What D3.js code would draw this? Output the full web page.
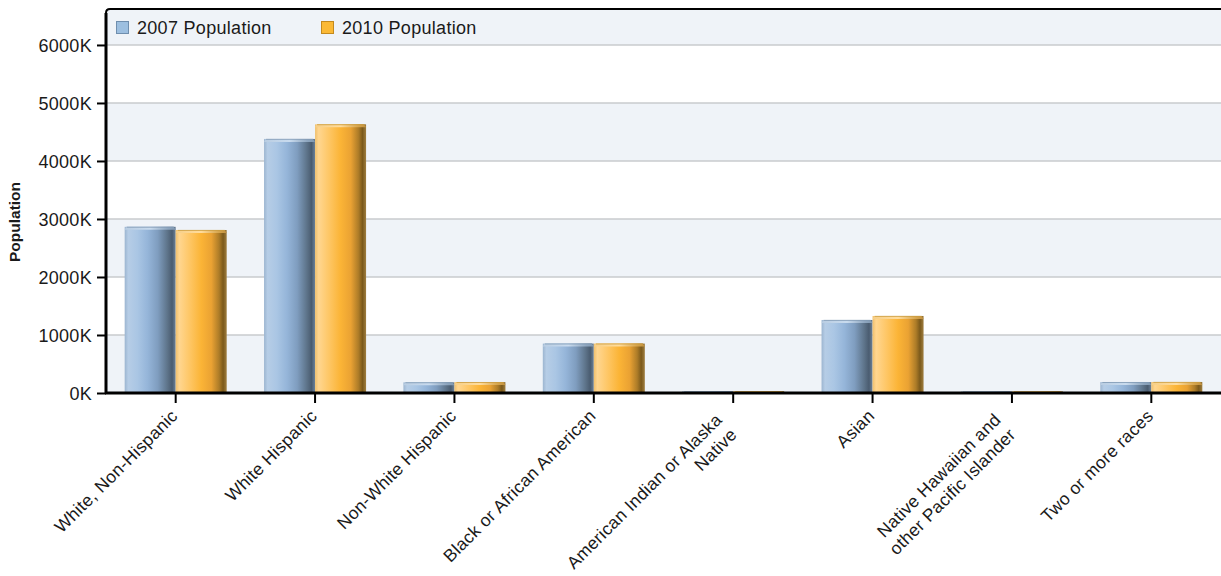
<!DOCTYPE html>
<html>
<head>
<meta charset="utf-8">
<script src="https://cdn.jsdelivr.net/npm/d3@7"></script>
<style>
  html, body { margin: 0; padding: 0; background: #ffffff; }
  svg { display: block; }
  text { font-family: "Liberation Sans", Arial, sans-serif; fill: #1a1a1a; }
</style>
</head>
<body>
<svg id="chart" width="1221" height="576"></svg>
<script>
const categories = [
  "White, Non-Hispanic",
  "White Hispanic",
  "Non-White Hispanic",
  "Black or African American",
  "American Indian or Alaska\nNative",
  "Asian",
  "Native Hawaiian and\nother Pacific Islander",
  "Two or more races"
];
const seriesNames = ["2007 Population", "2010 Population"];
const pop2007 = [2865, 4380, 184, 852, 30, 1259, 26, 188];
const pop2010 = [2810, 4632, 188, 852, 32, 1328, 28, 190];
const yTicks = [0, 1000, 2000, 3000, 4000, 5000, 6000];
const yMax = 6620;

const W = 1221, H = 576;
const m = { left: 106, right: 0, top: 9, bottom: 183 };
const x0 = m.left, x1 = W - m.right, yTop = m.top, yBot = H - m.bottom;

const svg = d3.select("#chart");
const defs = svg.append("defs");

function hGrad(id, stops) {
  const g = defs.append("linearGradient").attr("id", id)
    .attr("x1", 0).attr("x2", 1).attr("y1", 0).attr("y2", 0);
  stops.forEach(s => g.append("stop").attr("offset", s[0]).attr("stop-color", s[1]));
}
hGrad("gBlue", [[0, "#9cb5d0"], [0.07, "#b6cde6"], [0.25, "#aac6e4"], [0.45, "#95b5d9"],
  [0.65, "#7f9dbf"], [0.84, "#5d7389"], [0.93, "#4a5c70"], [1, "#6b8199"]]);
hGrad("gOrange", [[0, "#efbf6c"], [0.07, "#ffd690"], [0.28, "#fec664"], [0.5, "#fbb436"],
  [0.7, "#eaa233"], [0.85, "#ad7c28"], [0.93, "#7b591b"], [1, "#9f7e40"]]);
hGrad("gBlueTop", [[0, "#b9cde2"], [0.5, "#c9dbee"], [0.85, "#8ea6bf"], [1, "#8098b0"]]);
hGrad("gOrangeTop", [[0, "#f6cf88"], [0.5, "#ffdc9c"], [0.85, "#d5a44c"], [1, "#c09040"]]);

const x = d3.scaleBand().domain(categories).range([x0, x1])
  .paddingInner(0.268).paddingOuter(0.134);
const xs = d3.scaleBand().domain(seriesNames).range([0, x.bandwidth()]);
const y = d3.scaleLinear().domain([0, yMax]).range([yBot, yTop]);

// alternating bands
const bandEdges = yTicks.concat([yMax]);
for (let i = 0; i < bandEdges.length - 1; i++) {
  if (i % 2 === 0) {
    svg.append("rect")
      .attr("x", x0).attr("width", x1 - x0)
      .attr("y", y(bandEdges[i + 1])).attr("height", y(bandEdges[i]) - y(bandEdges[i + 1]))
      .attr("fill", "#eff3f8");
  }
}
// gridlines
svg.append("g").selectAll("line").data(yTicks.slice(1)).join("line")
  .attr("x1", x0).attr("x2", x1)
  .attr("y1", d => y(d)).attr("y2", d => y(d))
  .attr("stroke", "#c9cbce").attr("stroke-width", 1.5);

// bars
const data = categories.map((c, i) => ({ cat: c, vals: [pop2007[i], pop2010[i]] }));
const grads = ["gBlue", "gOrange"], tops = ["gBlueTop", "gOrangeTop"];
const groups = svg.append("g").selectAll("g").data(data).join("g")
  .attr("transform", d => `translate(${x(d.cat)},0)`);
groups.each(function (d) {
  const g = d3.select(this);
  d.vals.forEach((v, si) => {
    const bx = xs(seriesNames[si]), bw = xs.bandwidth();
    const ty = y(v), by = y(0);
    g.append("rect").attr("x", bx).attr("y", ty).attr("width", bw)
      .attr("height", Math.max(0, by - ty)).attr("fill", `url(#${grads[si]})`);
    const capH = Math.min(3, by - ty);
    g.append("path")
      .attr("d", `M${bx},${ty + capH} L${bx + 2},${ty} L${bx + bw - 2},${ty} L${bx + bw},${ty + capH} Z`)
      .attr("fill", `url(#${tops[si]})`);
    g.append("line").attr("x1", bx + 2).attr("x2", bx + bw - 2)
      .attr("y1", ty + 0.4).attr("y2", ty + 0.4)
      .attr("stroke", si === 0 ? "#7f98b3" : "#c99a3e").attr("stroke-width", 0.8);
  });
});

// y axis
const yAxis = d3.axisLeft(y).tickValues(yTicks).tickFormat(d => (d) + "K")
  .tickSize(9).tickPadding(5);
const ya = svg.append("g").attr("transform", `translate(${x0},0)`).call(yAxis);
ya.select(".domain").remove();
ya.selectAll(".tick line").attr("stroke", "#000").attr("stroke-width", 2);
ya.selectAll(".tick text").attr("font-size", 18).attr("letter-spacing", 0.3)
  .attr("fill", "#1a1a1a").attr("font-family", "Liberation Sans, Arial, sans-serif").attr("dy", "0.34em");

// x axis
const xAxis = d3.axisBottom(x).tickSize(10).tickFormat("");
const xa = svg.append("g").attr("transform", `translate(0,${yBot})`).call(xAxis);
xa.select(".domain").remove();
xa.selectAll(".tick line").attr("stroke", "#000").attr("stroke-width", 2);

// frame lines
svg.append("path")
  .attr("d", `M${x0},${yBot} L${x0},${yTop + 4} Q${x0},${yTop} ${x0 + 4},${yTop} L${x1},${yTop}`)
  .attr("fill", "none").attr("stroke", "#000").attr("stroke-width", 2);
svg.append("line").attr("x1", x0).attr("x2", x0).attr("y1", yTop + 4).attr("y2", yBot)
  .attr("stroke", "#000").attr("stroke-width", 3);
svg.append("line").attr("x1", x0 - 1).attr("x2", x1).attr("y1", yBot).attr("y2", yBot)
  .attr("stroke", "#000").attr("stroke-width", 3);

// x labels
const lab = svg.append("g");
categories.forEach(c => {
  const lines = c.split("\n");
  const tx = x(c) + x.bandwidth() / 2;
  const multi = lines.length > 1;
  const g = lab.append("g").attr("transform", `translate(${tx + 3},${417}) rotate(-45)`);
  lines.forEach((ln, i) => {
    g.append("text")
      .attr("x", multi ? -12 : 0)
      .attr("y", multi ? (i - (lines.length - 1) / 2) * 21 + 4 : 0)
      .attr("text-anchor", "end")
      .attr("font-size", 17.5).attr("letter-spacing", 0.3)
      .text(ln);
  });
});

// y title
svg.append("text")
  .attr("transform", `translate(20,${222}) rotate(-90)`)
  .attr("text-anchor", "middle")
  .attr("font-size", 15.5).attr("font-weight", "bold")
  .text("Population");

// legend
const legFill = ["#9dbfe0", "#fbb935"], legStroke = ["#6f8eae", "#c48a1e"];
const legX = [116, 321];
seriesNames.forEach((s, i) => {
  svg.append("rect").attr("x", legX[i] + 0.5).attr("y", 21.5).attr("width", 12).attr("height", 12)
    .attr("fill", legFill[i]).attr("stroke", legStroke[i]).attr("stroke-width", 1);
  svg.append("text").attr("x", legX[i] + 21).attr("y", 34)
    .attr("font-size", 18).attr("letter-spacing", 0.3).text(s);
});
</script>
</body>
</html>
